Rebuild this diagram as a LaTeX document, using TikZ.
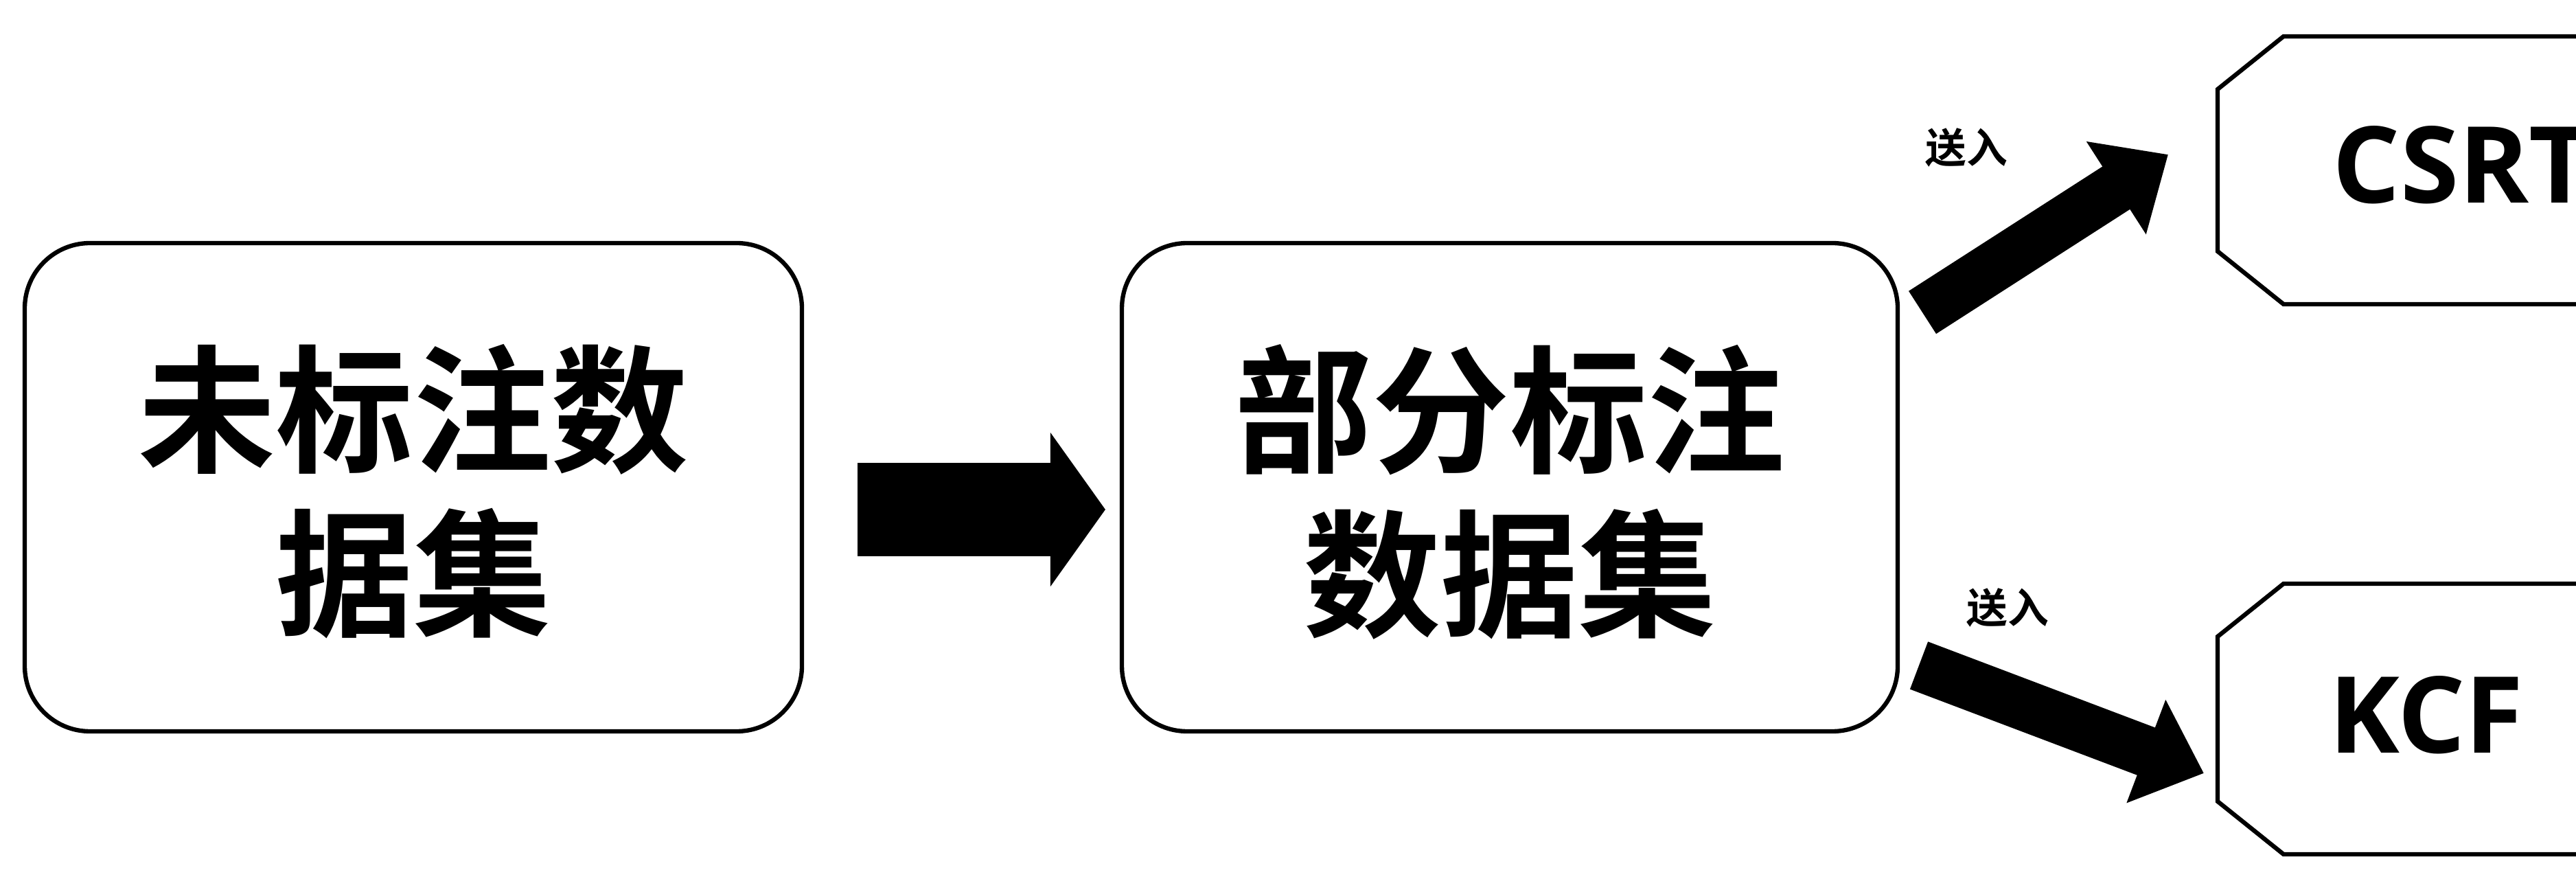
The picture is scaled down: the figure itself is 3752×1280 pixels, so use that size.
\documentclass[tikz,border=0pt]{standalone}
\usepackage{fontspec}
\setmainfont{Open Sans}
\newfontfamily\cjk{Noto Sans CJK SC}[BoldFont={Noto Sans CJK SC Bold}]
\usetikzlibrary{arrows.meta}
\begin{document}
\begin{tikzpicture}[x=0.01cm,y=-0.01cm,
  boxline/.style={line width=1.8pt},
  fat/.style={line width=0.74cm,-{Triangle[length=0.9cm,width=1.55cm]}},
  big/.style={font=\cjk\bfseries\fontsize{57}{68}\selectfont,align=center},
  lat/.style={font=\bfseries\fontsize{44}{48}\selectfont},
  lab/.style={font=\cjk\bfseries\fontsize{17}{20}\selectfont}]
\useasboundingbox (0,0) rectangle (3752,1280);
\draw[boxline,rounded corners=0.95cm] (36,354) rectangle (1168,1065);
\node[big] (a) at (602,716) {未标注数\\据集};
\draw[boxline,rounded corners=0.95cm] (1634,354) rectangle (2764,1065);
\node[big] (b) at (2199,716) {部分标注\\数据集};
\coordinate (m1) at (1249,742);
\coordinate (m2) at (1610,742);
\draw[line width=1.36cm,-{Triangle[length=0.8cm,width=2.2cm]}] (m1) -- (m2);
\draw[boxline] (3900,53) -- (3326,53) -- (3230,130) -- (3230,366) -- (3326,443) -- (3900,443);
\node[lat,anchor=west] (c) at (3385,240) {CSRT};
\draw[boxline] (3900,850) -- (3326,850) -- (3230,927) -- (3230,1167) -- (3326,1244) -- (3900,1244);
\node[lat,anchor=west] (k) at (3380,1041) {KCF};
\coordinate (u1) at (2800,455);
\coordinate (u2) at (3158,225);
\coordinate (l1) at (2795,969);
\coordinate (l2) at (3210,1126);
\draw[fat] (u1) -- (u2);
\draw[fat] (l1) -- (l2);
\node[lab] (s1) at (2864,215) {送入};
\node[lab] (s2) at (2924,885) {送入};
\end{tikzpicture}
\end{document}
